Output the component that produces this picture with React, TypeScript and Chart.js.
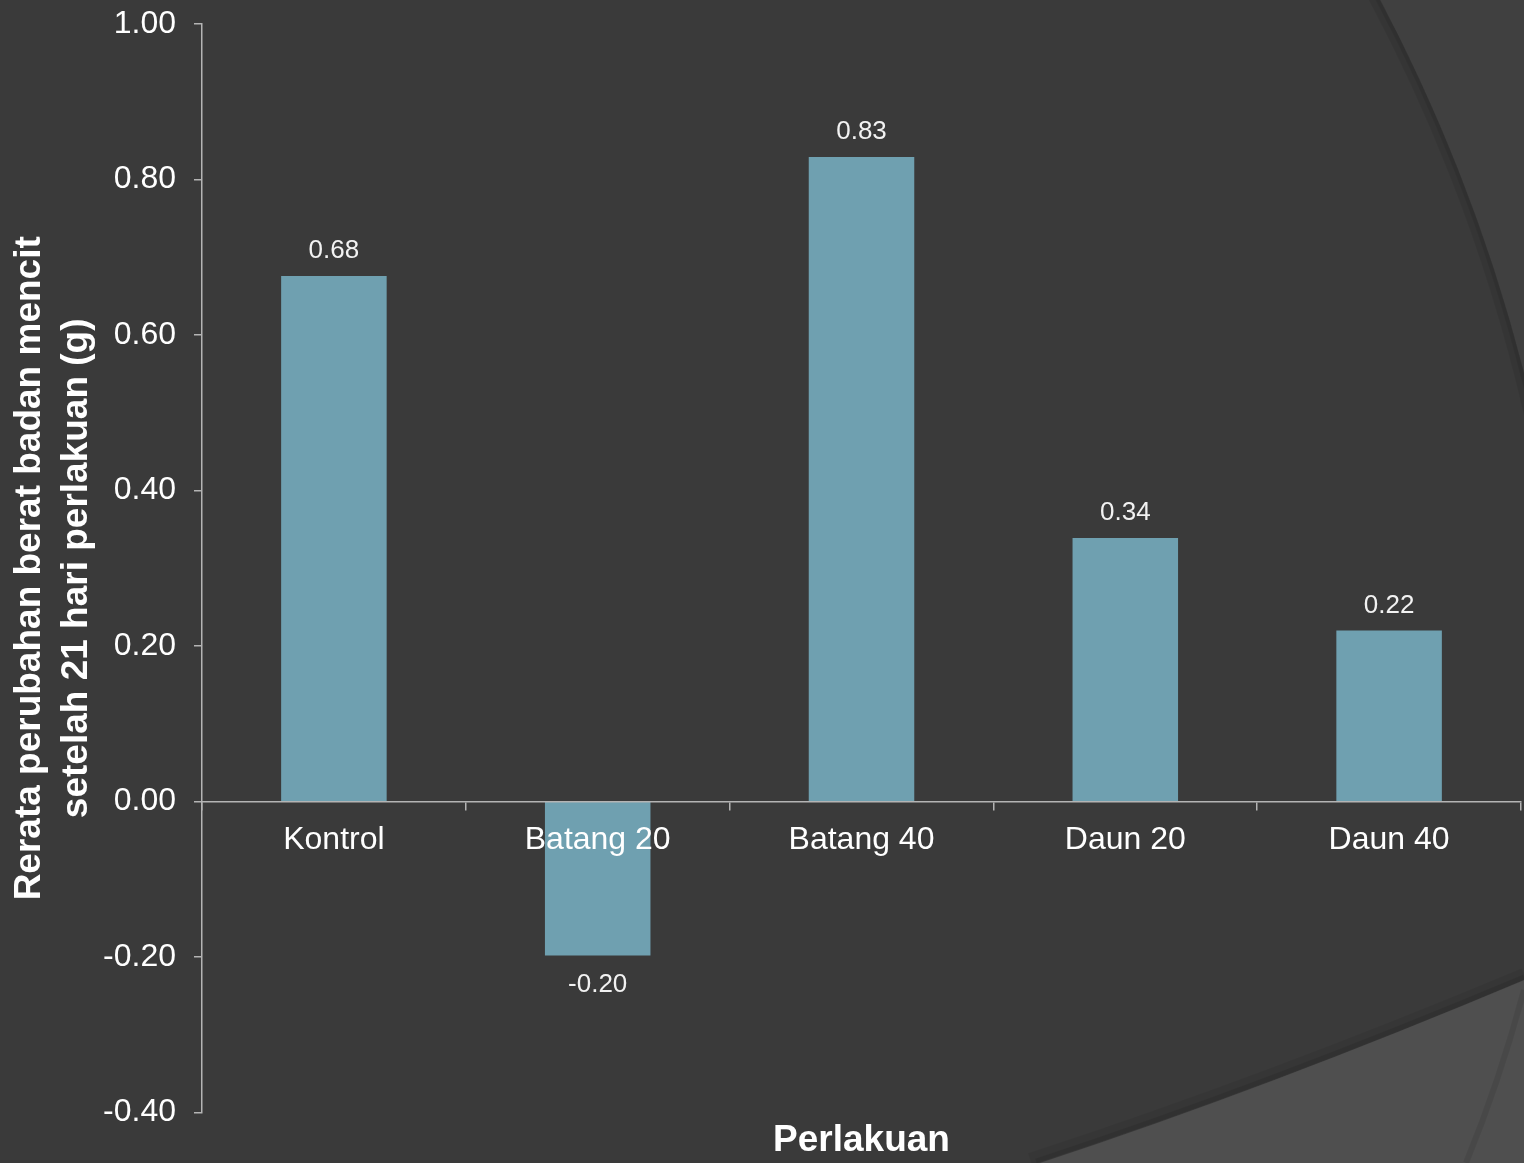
import React, { useEffect, useRef } from "react";
import { Chart, registerables } from "chart.js";

Chart.register(...registerables);

const categories = ["Kontrol", "Batang 20", "Batang 40", "Daun 20", "Daun 40"];
const values = [0.676, -0.198, 0.829, 0.339, 0.22];
const yTitle = ["Rerata perubahan berat badan mencit", "setelah 21 hari perlakuan (g)"];
const xTitle = "Perlakuan";

const FONT = "'Liberation Sans', Arial, sans-serif";
const AXIS = "#b4b4b4";

const bgPlugin = {
  id: "bgDecor",
  beforeDraw(chart: any) {
    const { ctx, width, height } = chart;
    ctx.save();
    ctx.fillStyle = "#404040";
    ctx.fillRect(0, 0, width, height);
    ctx.beginPath();
    ctx.arc(-123, 794, 1700, 0, Math.PI * 2);
    ctx.fillStyle = "#3a3a3a";
    ctx.fill();
    ctx.beginPath();
    ctx.arc(-123, 794, 1695, -Math.PI / 2, Math.PI / 2);
    ctx.strokeStyle = "rgba(0,0,0,0.07)";
    ctx.lineWidth = 10;
    ctx.stroke();
    ctx.beginPath();
    ctx.arc(-123, 794, 1698, -Math.PI / 2, Math.PI / 2);
    ctx.strokeStyle = "rgba(0,0,0,0.08)";
    ctx.lineWidth = 4;
    ctx.stroke();
    ctx.beginPath();
    ctx.moveTo(1040, height);
    ctx.quadraticCurveTo(1268, 1088, width, 980);
    ctx.lineTo(width, height);
    ctx.closePath();
    ctx.fillStyle = "#4f4f4f";
    ctx.fill();
    ctx.beginPath();
    ctx.moveTo(1030, height - 4);
    ctx.quadraticCurveTo(1266, 1082, width, 974);
    ctx.strokeStyle = "rgba(0,0,0,0.06)";
    ctx.lineWidth = 12;
    ctx.stroke();
    ctx.beginPath();
    ctx.moveTo(1036, height - 2);
    ctx.quadraticCurveTo(1267, 1085, width, 977);
    ctx.strokeStyle = "rgba(0,0,0,0.08)";
    ctx.lineWidth = 5;
    ctx.stroke();
    ctx.beginPath();
    ctx.moveTo(1466, height);
    ctx.quadraticCurveTo(1500, 1080, width, 990);
    ctx.strokeStyle = "rgba(0,0,0,0.08)";
    ctx.lineWidth = 6;
    ctx.stroke();
    ctx.restore();
  },
};

const labelPlugin = {
  id: "valueLabels",
  afterDatasetsDraw(chart: any) {
    const { ctx } = chart;
    const meta = chart.getDatasetMeta(0);
    ctx.save();
    ctx.font = `26px ${FONT}`;
    ctx.fillStyle = "#f2f2f2";
    ctx.textAlign = "center";
    ctx.textBaseline = "middle";
    meta.data.forEach((bar: any, i: number) => {
      const v = values[i];
      const y = v >= 0 ? bar.y - 25 : bar.y + 29;
      ctx.fillText(v.toFixed(2), bar.x, y);
    });
    ctx.restore();
  },
};

export default function App() {
  const ref = useRef<HTMLCanvasElement | null>(null);
  useEffect(() => {
    if (!ref.current) return;
    const chart = new Chart(ref.current, {
      type: "bar",
      data: {
        labels: categories,
        datasets: [
          {
            data: values,
            backgroundColor: "#6fa0b0",
            borderWidth: 0,
            barPercentage: 0.4,
            categoryPercentage: 1,
          },
        ],
      },
      options: {
        animation: false,
        responsive: true,
        maintainAspectRatio: false,
        layout: { padding: { top: 24, right: 3, left: 0, bottom: 0 } },
        plugins: {
          legend: { display: false },
          tooltip: { enabled: false },
          title: {
            display: true,
            text: xTitle,
            position: "bottom",
            fullSize: false,
            color: "#ffffff",
            font: { family: FONT, size: 37, weight: "bold", lineHeight: 1.2 },
            padding: { top: 6, bottom: 0 },
          },
        },
        scales: {
          x: {
            position: { y: 0 } as any,
            offset: true,
            grid: {
              display: true,
              drawOnChartArea: false,
              drawTicks: true,
              tickLength: 8,
              color: AXIS,
              lineWidth: 1.5,
              offset: true,
            },
            border: { display: true, color: AXIS, width: 1.5, z: 1 },
            ticks: {
              z: 1,
              color: "#ffffff",
              font: { family: FONT, size: 32 },
              padding: 11,
              maxRotation: 0,
            },
          },
          y: {
            min: -0.4,
            max: 1.0,
            afterFit(scale: any) {
              scale.width = 202;
              scale.paddingTop = 0;
              scale.paddingBottom = 0;
            },
            grid: {
              display: true,
              drawOnChartArea: false,
              drawTicks: true,
              tickLength: 8,
              color: AXIS,
              lineWidth: 1.5,
            },
            border: { display: true, color: AXIS, width: 1.5 },
            ticks: {
              stepSize: 0.2,
              color: "#ffffff",
              font: { family: FONT, size: 32 },
              padding: 18,
              callback: (v: any) => {
                const n = Math.abs(Number(v)) < 1e-9 ? 0 : Number(v);
                return n.toFixed(2);
              },
            },
            title: {
              display: true,
              text: yTitle,
              color: "#ffffff",
              font: { family: FONT, size: 37, weight: "bold", lineHeight: 1.27 },
              padding: { top: 6, bottom: 0 },
            },
          },
        },
      },
      plugins: [bgPlugin, labelPlugin],
    });
    return () => chart.destroy();
  }, []);
  return (
    <div style={{ position: "fixed", left: 0, top: 0, width: 1524, height: 1163 }}>
      <canvas ref={ref} />
    </div>
  );
}
